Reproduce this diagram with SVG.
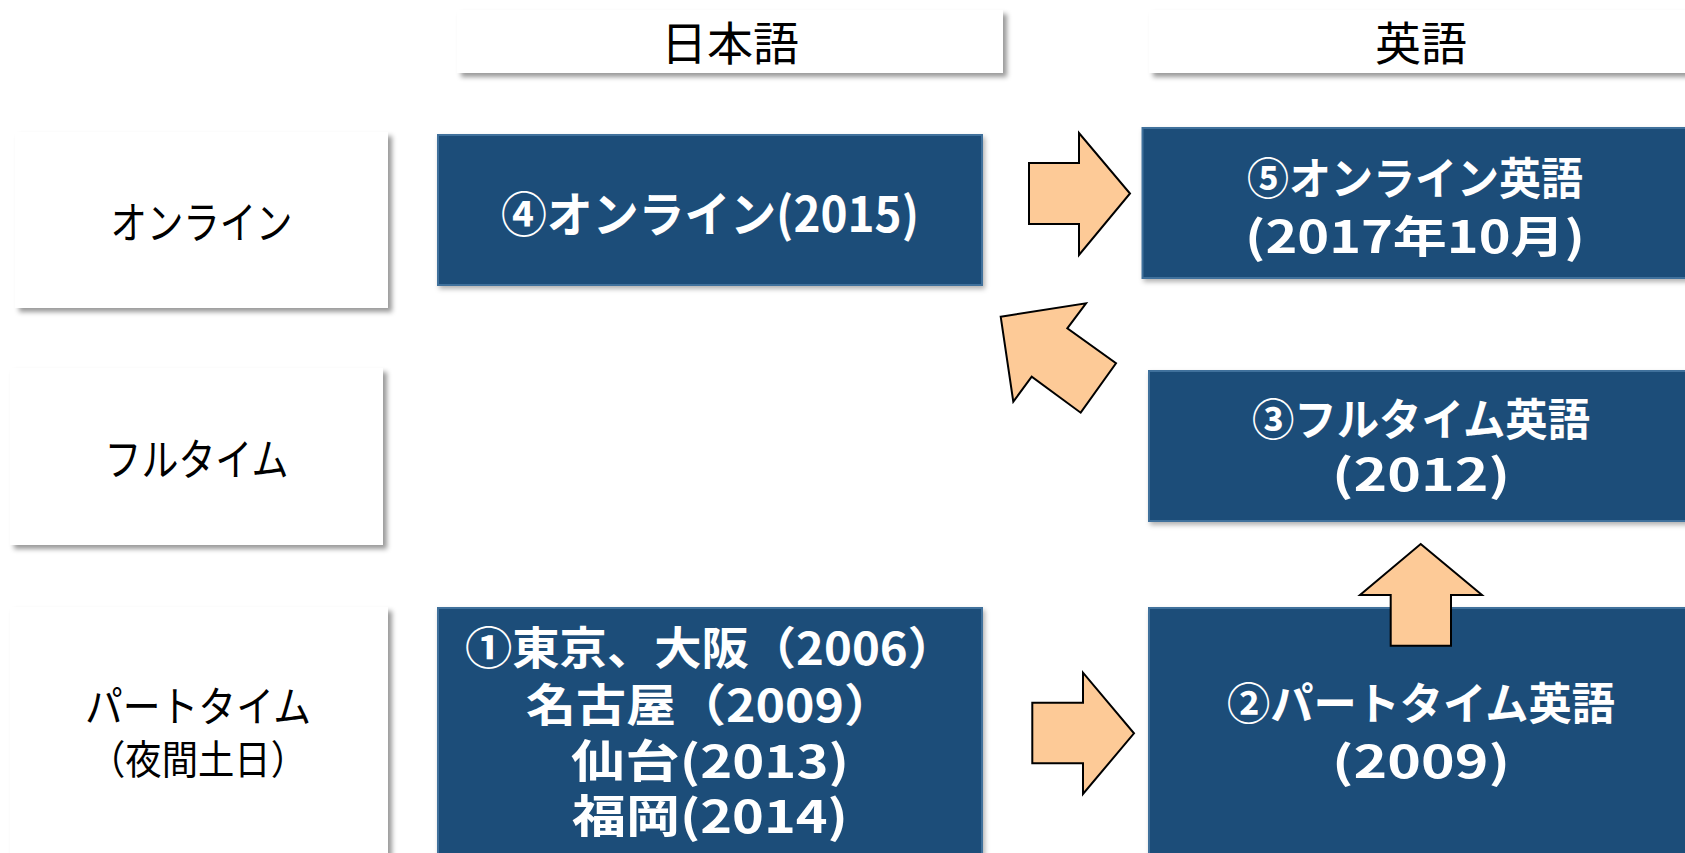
<svg xmlns="http://www.w3.org/2000/svg" width="1685" height="853" viewBox="0 0 1685 853">
<defs>
<filter id="sh" x="-10%" y="-10%" width="130%" height="140%">
<feDropShadow dx="4" dy="4" stdDeviation="2.5" flood-color="#000" flood-opacity="0.4"/>
</filter>
<filter id="sh2" x="-10%" y="-10%" width="130%" height="140%">
<feDropShadow dx="2" dy="3" stdDeviation="2.5" flood-color="#000" flood-opacity="0.3"/>
</filter>
</defs>
<style>
.lb{fill:#fff;filter:url(#sh)}
.db{fill:#1F4E79;stroke:#41719C;stroke-width:2;filter:url(#sh2)}
.ar{fill:#FDCA97;stroke:#000;stroke-width:2;stroke-linejoin:miter}
.t{font-family:"Noto Sans CJK JP","Noto Sans",sans-serif;fill:#000;text-anchor:middle}
.w{font-family:"Noto Sans CJK JP","Noto Sans",sans-serif;fill:#fff;font-weight:bold;text-anchor:middle}
</style>
<rect width="1685" height="853" fill="#fff"/>

<g id="header-ja">
<rect class="lb" x="457" y="10" width="546" height="63"/>
<text class="t" x="730" y="60" font-size="46">日本語</text>
</g>
<g id="header-en">
<rect class="lb" x="1149" y="10" width="550" height="63"/>
<text class="t" x="1421" y="60" font-size="46">英語</text>
</g>

<g id="row-online">
<rect class="lb" x="15" y="132" width="373" height="176"/>
<text class="t" x="201.5" y="239" font-size="44" textLength="182" lengthAdjust="spacingAndGlyphs">オンライン</text>
</g>
<g id="row-fulltime">
<rect class="lb" x="10" y="368" width="373" height="177"/>
<text class="t" x="196.5" y="476" font-size="44" textLength="184" lengthAdjust="spacingAndGlyphs">フルタイム</text>
</g>
<g id="row-parttime">
<rect class="lb" x="10" y="607" width="378" height="260"/>
<text class="t" lengthAdjust="spacingAndGlyphs"><tspan x="198" y="722" font-size="42" textLength="226" lengthAdjust="spacingAndGlyphs">パートタイム</tspan><tspan x="198" y="774" font-size="40" textLength="218" lengthAdjust="spacingAndGlyphs">（夜間土日）</tspan></text>
</g>

<g id="node4">
<rect class="db" x="438" y="135" width="544" height="150"/>
<text class="w" x="710" y="232" font-size="48" textLength="418" lengthAdjust="spacingAndGlyphs">④オンライン(2015)</text>
</g>
<g id="node5">
<rect class="db" x="1142.5" y="128" width="550" height="150"/>
<text class="w" font-size="44"><tspan x="1415" y="195" textLength="336" lengthAdjust="spacingAndGlyphs">⑤オンライン英語</tspan><tspan x="1415" y="253" textLength="340" lengthAdjust="spacingAndGlyphs">(2017年10月)</tspan></text>
</g>
<g id="node3">
<rect class="db" x="1149" y="371" width="550" height="150"/>
<text class="w" font-size="44"><tspan x="1421" y="436" textLength="338" lengthAdjust="spacingAndGlyphs">③フルタイム英語</tspan><tspan x="1421" y="491" textLength="178" lengthAdjust="spacingAndGlyphs">(2012)</tspan></text>
</g>
<g id="node2">
<rect class="db" x="1149" y="608" width="550" height="260"/>
<text class="w" font-size="44"><tspan x="1421" y="720" textLength="388" lengthAdjust="spacingAndGlyphs">②パートタイム英語</tspan><tspan x="1421" y="778" textLength="178" lengthAdjust="spacingAndGlyphs">(2009)</tspan></text>
</g>
<g id="node1">
<rect class="db" x="438" y="608" width="544" height="260"/>
<text class="w" font-size="45"><tspan x="710" y="665" textLength="490" lengthAdjust="spacingAndGlyphs">①東京、大阪（2006）</tspan><tspan x="710" y="722" textLength="368" lengthAdjust="spacingAndGlyphs">名古屋（2009）</tspan><tspan x="710" y="778" textLength="278" lengthAdjust="spacingAndGlyphs">仙台(2013)</tspan><tspan x="710" y="833" textLength="276" lengthAdjust="spacingAndGlyphs">福岡(2014)</tspan></text>
</g>

<g id="connectors">
<polygon class="ar" points="1029,163 1079,163 1079,133 1130,193.5 1079,255 1079,224 1029,224"/>
<polygon class="ar" points="1000.7,316.7 1086,303.3 1067.3,328.3 1116,363.3 1080.7,412.7 1031.7,376.7 1013.3,401.7"/>
<polygon class="ar" points="1420.7,544 1482,595 1451,595 1451,645.7 1390.7,645.7 1390.7,595 1360,595"/>
<polygon class="ar" points="1032.3,702.7 1083,702.7 1083,672.7 1134,733.3 1083,794 1083,763.3 1032.3,763.3"/>
</g>
</svg>
